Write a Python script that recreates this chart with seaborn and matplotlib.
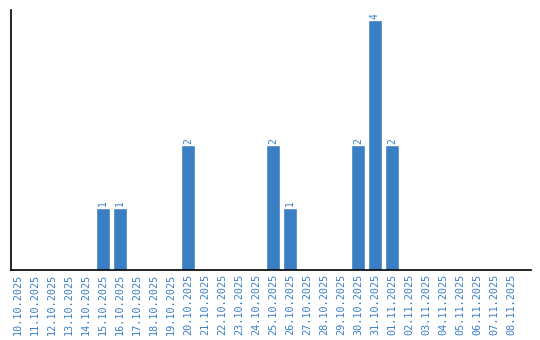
import matplotlib
matplotlib.use("Agg")
import matplotlib.pyplot as plt
import seaborn as sns
import pandas as pd

dates = ["10.10.2025", "11.10.2025", "12.10.2025", "13.10.2025", "14.10.2025",
         "15.10.2025", "16.10.2025", "17.10.2025", "18.10.2025", "19.10.2025",
         "20.10.2025", "21.10.2025", "22.10.2025", "23.10.2025", "24.10.2025",
         "25.10.2025", "26.10.2025", "27.10.2025", "28.10.2025", "29.10.2025",
         "30.10.2025", "31.10.2025", "01.11.2025", "02.11.2025", "03.11.2025",
         "04.11.2025", "05.11.2025", "06.11.2025", "07.11.2025", "08.11.2025"]
counts = [0, 0, 0, 0, 0, 1, 1, 0, 0, 0,
          2, 0, 0, 0, 0, 2, 1, 0, 0, 0,
          2, 4, 2, 0, 0, 0, 0, 0, 0, 0]

df = pd.DataFrame({"date": dates, "count": counts})

sns.set_style("white")
plt.rcParams['font.family'] = ['DejaVu Sans Mono', 'DejaVu Sans']

blue = "#3a7ec4"
fig = plt.figure(figsize=(5.4, 3.4), dpi=100)
ax = fig.add_axes([11/540, 70/340, 520/540, 260/340])
sns.barplot(data=df, x="date", y="count", color=blue, saturation=1, width=0.82, ax=ax)

ax.set_xlim(-0.41, 30.18)
ax.set_ylim(0, 4.16)
ax.set_xlabel("")
ax.set_ylabel("")
ax.set_yticks([])
ax.tick_params(axis="x", length=0, pad=3, labelsize=7.3, labelcolor=blue, rotation=90)
for s in ["top", "right"]:
    ax.spines[s].set_visible(False)
for s in ["left", "bottom"]:
    ax.spines[s].set_color("black")
    ax.spines[s].set_linewidth(1.2)

for i, v in enumerate(counts):
    if v > 0:
        ax.text(i, v + 0.02, str(v), rotation=90, ha="center", va="bottom",
                fontsize=7, color=blue)

fig.savefig("out.png", dpi=100)
